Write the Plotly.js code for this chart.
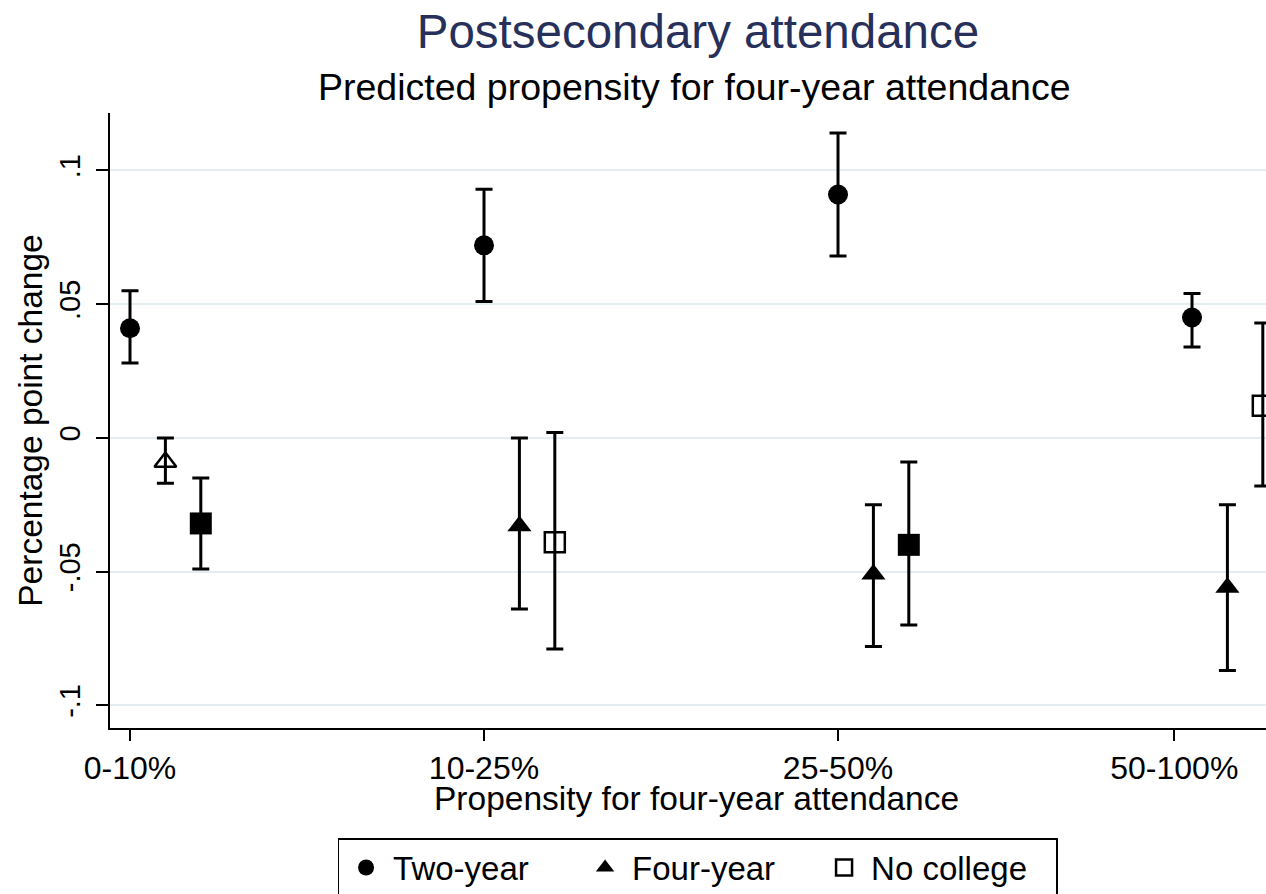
<!DOCTYPE html>
<html>
<head>
<meta charset="utf-8">
<script src="https://cdn.plot.ly/plotly-3.0.1.min.js"></script>
<style>
html,body{margin:0;padding:0;background:#fff;overflow:hidden}
#chart{width:1266px;height:894px}
</style>
</head>
<body>
<div id="chart"></div>
<script>
// ---- data ----
const categories = ['0-10%', '10-25%', '25-50%', '50-100%'];
const groupPositions = [0, 1, 2, 3];
const tickPositions = [0, 1, 2, 2.95];
const yTickValues = [-0.1, -0.05, 0, 0.05, 0.1];
const yTickLabels = ['-.1', '-.05', '0', '.05', '.1'];

const twoYearEst = [0.041, 0.072, 0.091, 0.045];
const twoYearLo = [0.028, 0.051, 0.068, 0.034];
const twoYearHi = [0.055, 0.093, 0.114, 0.054];
const twoYearFilled = [true, true, true, true];

const fourYearEst = [-0.009, -0.033, -0.051, -0.056];
const fourYearLo = [-0.017, -0.064, -0.078, -0.087];
const fourYearHi = [0.000, 0.000, -0.025, -0.025];
const fourYearFilled = [false, true, true, true];

const noCollegeEst = [-0.032, -0.039, -0.040, 0.012];
const noCollegeLo = [-0.049, -0.079, -0.070, -0.018];
const noCollegeHi = [-0.015, 0.002, -0.009, 0.043];
const noCollegeFilled = [true, false, true, false];

// ---- styling ----
const FONT = 'Liberation Sans, Arial, Helvetica, sans-serif';

function series(name, offset, est, lo, hi, filled, wantFilled, symbol, size, showLegend) {
  const idx = est.map((_, i) => i).filter(i => filled[i] === wantFilled);
  return {
    type: 'scatter',
    mode: 'markers',
    name: name,
    showlegend: showLegend,
    x: idx.map(i => groupPositions[i] + offset),
    y: idx.map(i => est[i]),
    text: idx.map(i => categories[i]),
    error_y: {
      type: 'data', symmetric: false, visible: true,
      array: idx.map(i => hi[i] - est[i]),
      arrayminus: idx.map(i => est[i] - lo[i]),
      color: '#000', thickness: 3, width: 8.5
    },
    marker: {
      symbol: wantFilled ? symbol : symbol + '-open',
      size: size,
      color: '#000',
      line: {color: '#000', width: wantFilled ? 0 : 2.5}
    }
  };
}

const traces = [
  series('Two-year', 0, twoYearEst, twoYearLo, twoYearHi, twoYearFilled, true, 'circle', 20, true),
  series('Four-year', 0.1, fourYearEst, fourYearLo, fourYearHi, fourYearFilled, true, 'triangle-up', 21, true),
  series('Four-year', 0.1, fourYearEst, fourYearLo, fourYearHi, fourYearFilled, false, 'triangle-up', 19, false),
  series('No college', 0.2, noCollegeEst, noCollegeLo, noCollegeHi, noCollegeFilled, false, 'square', 20, true),
  series('No college', 0.2, noCollegeEst, noCollegeLo, noCollegeHi, noCollegeFilled, true, 'square', 22, false)
];

const layout = {
  width: 1266,
  height: 894,
  paper_bgcolor: '#fff',
  plot_bgcolor: '#fff',
  font: {family: FONT, color: '#000'},
  margin: {l: 110, r: 0, t: 113, b: 166, pad: 0, autoexpand: false},
  title: {
    text: 'Postsecondary attendance',
    font: {family: FONT, size: 47.5, color: '#27305a'},
    xref: 'container', x: 0.5513, xanchor: 'center',
    yref: 'container', y: 0.965, yanchor: 'middle'
  },
  annotations: [
    {
      text: 'Predicted propensity for four-year attendance',
      xref: 'paper', yref: 'paper', x: 0.506, y: 1.0423,
      xanchor: 'center', yanchor: 'middle', showarrow: false,
      font: {family: FONT, size: 37.5, color: '#000'}
    },
    {
      // x-axis title, placed tight under the tick labels as in the reference
      text: 'Propensity for four-year attendance',
      xref: 'paper', yref: 'paper', x: 0.507, y: -0.1145,
      xanchor: 'center', yanchor: 'middle', showarrow: false,
      font: {family: FONT, size: 33.5, color: '#000'}
    }
  ],
  xaxis: {
    range: [-0.0565, 3.209],
    tickmode: 'array', tickvals: tickPositions, ticktext: categories,
    ticks: 'outside', ticklen: 11, tickwidth: 2, tickcolor: '#000',
    ticklabelstandoff: 0,
    tickfont: {family: FONT, size: 32, color: '#000'},
    showline: true, linecolor: '#000', linewidth: 2,
    showgrid: false, zeroline: false, automargin: false
  },
  yaxis: {
    range: [-0.1085, 0.1215],
    tickmode: 'array', tickvals: yTickValues, ticktext: yTickLabels,
    tickangle: -90,
    ticks: 'outside', ticklen: 12, tickwidth: 2, tickcolor: '#000',
    ticklabelstandoff: 4,
    tickfont: {family: FONT, size: 29, color: '#000'},
    showline: true, linecolor: '#000', linewidth: 2,
    showgrid: true, gridcolor: '#e4edf0', gridwidth: 2,
    zeroline: false, automargin: false,
    title: {text: 'Percentage point change', font: {family: FONT, size: 33.5, color: '#000'}, standoff: 2}
  },
  legend: {
    orientation: 'h',
    xref: 'container', yref: 'container',
    x: 0.551, xanchor: 'center',
    y: 0.0626, yanchor: 'top',
    bordercolor: '#000', borderwidth: 1.5, bgcolor: '#fff',
    font: {family: FONT, size: 33, color: '#000'},
    itemwidth: 44,
    entrywidth: 180, entrywidthmode: 'pixels',
    traceorder: 'normal'
  },
  showlegend: true
};

Plotly.newPlot('chart', traces, layout, {displayModeBar: false, staticPlot: true});
</script>
</body>
</html>
